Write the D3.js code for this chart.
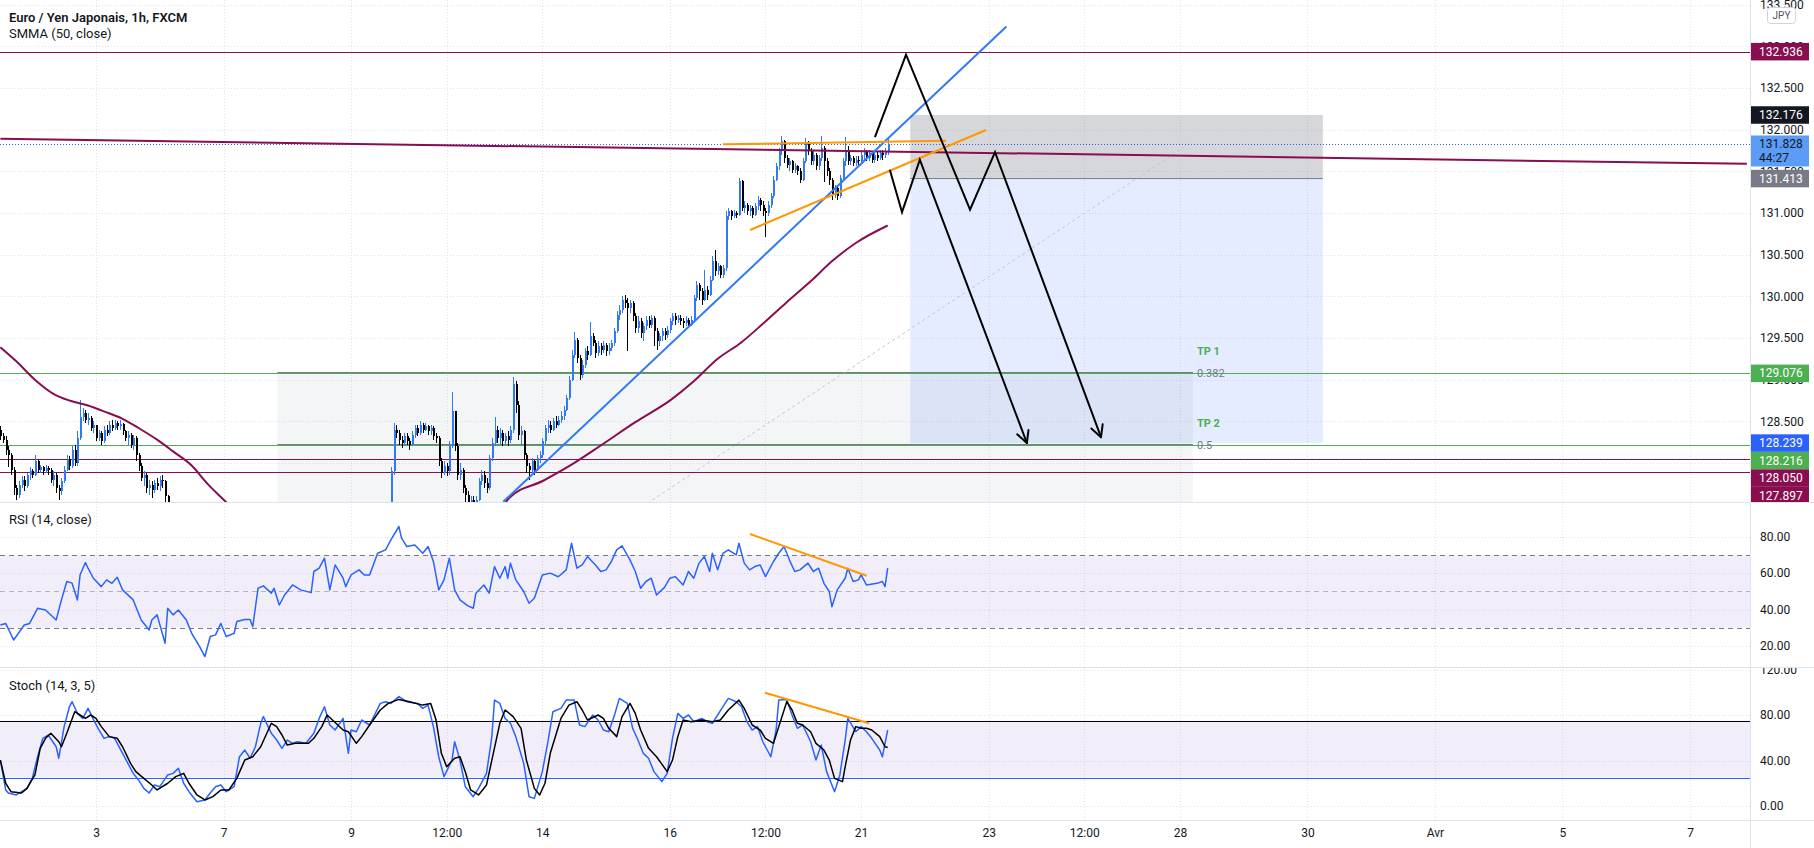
<!DOCTYPE html>
<html><head><meta charset="utf-8">
<script src="https://cdn.jsdelivr.net/npm/d3@7"></script>
<style>
html,body{margin:0;padding:0;background:#fff;overflow:hidden;}
svg{display:block;font-family:Roboto,"Noto Sans",sans-serif;}
</style></head><body>
<svg id="c" width="1814" height="848"></svg>
<script>
// ---------------- DATA ----------------
// hourly bars, index 0 = 1 Mar 12:00 ; index 36 = 3 Mar 00:00
const timeBars   = [36,84,132,168,204,252,288,324,372,408,444,492,540,588,636];
const timeLabels = ["3","7","9","12:00","14","16","12:00","21","23","12:00","28","30","Avr","5","7"];
const priceTicks = [128.0,128.5,129.0,129.5,130.0,130.5,131.0,131.5,132.0,132.5,133.0,133.5];
const rsiTicks   = [20,40,60,80];
const stochTicks = [0,40,80,120];

// candles, segment A (visible left part)
const startA = 0, openA = 128.40;
const closesA = [128.32,128.28,128.15,128.10,127.92,127.70,127.62,127.74,127.80,127.72,
127.85,127.90,127.86,128.02,127.92,127.95,127.90,127.94,127.92,127.80,
127.86,127.70,127.66,127.78,127.92,128.05,127.96,128.15,128.00,128.30,
128.55,128.60,128.52,128.54,128.42,128.45,128.30,128.36,128.26,128.40,
128.36,128.46,128.42,128.48,128.44,128.47,128.38,128.30,128.34,128.22,
128.30,128.10,127.96,127.82,127.86,127.70,127.74,127.68,127.76,127.72,
127.80,127.78,127.60,127.48,127.30];
const highsA = [128.44,128.36,128.32,128.20,128.12,127.95,127.74,127.78,127.84,127.84,
127.88,127.95,127.93,128.10,128.04,127.98,127.96,127.97,127.96,127.94,
127.90,127.88,127.74,127.82,127.96,128.10,128.08,128.20,128.22,128.38,
128.76,128.66,128.64,128.60,128.56,128.50,128.46,128.40,128.38,128.44,
128.46,128.50,128.52,128.52,128.50,128.52,128.48,128.40,128.38,128.36,
128.34,128.32,128.12,128.00,127.90,127.88,127.80,127.78,127.80,127.82,
127.84,127.86,127.80,127.62,127.50];
const lowsA = [128.28,128.24,128.10,127.95,127.85,127.62,127.56,127.58,127.70,127.66,
127.70,127.80,127.82,127.84,127.88,127.88,127.86,127.88,127.86,127.76,
127.72,127.64,127.55,127.62,127.76,127.90,127.92,127.94,127.96,127.96,
128.28,128.50,128.48,128.46,128.38,128.36,128.26,128.26,128.22,128.24,
128.32,128.34,128.38,128.40,128.40,128.40,128.34,128.26,128.22,128.18,
128.16,128.02,127.90,127.78,127.72,127.64,127.62,127.58,127.64,127.68,
127.66,127.70,127.50,127.40,127.20];

// candles, segment B (from 9 Mar to last bar)
const startB = 147, openB = 127.40;
const closesB = [127.90,128.40,128.36,128.28,128.24,128.32,128.26,128.22,128.34,128.42,
128.36,128.46,128.40,128.44,128.38,128.42,128.32,128.30,128.02,127.88,
127.96,127.90,128.20,128.62,128.20,127.86,127.92,127.70,127.62,127.52,
127.56,127.50,127.56,127.78,127.86,127.76,127.70,128.06,128.24,128.40,
128.30,128.36,128.26,128.32,128.28,128.40,128.95,128.70,128.34,128.38,
128.10,127.96,127.92,128.02,127.92,128.06,128.10,128.26,128.42,128.46,
128.40,128.50,128.46,128.52,128.56,128.64,128.78,129.00,129.30,129.48,
129.26,129.06,129.18,129.34,129.30,129.52,129.44,129.32,129.40,129.36,
129.42,129.34,129.38,129.44,129.58,129.78,129.84,129.96,129.92,129.86,
129.92,129.76,129.62,129.70,129.56,129.64,129.72,129.66,129.74,129.58,
129.46,129.52,129.58,129.54,129.60,129.70,129.76,129.72,129.74,129.70,
129.68,129.72,129.66,129.72,129.98,130.14,130.06,129.96,130.08,130.02,
130.20,130.42,130.30,130.36,130.26,130.34,130.96,131.02,130.96,131.00,
130.98,131.38,131.06,131.10,131.02,131.06,130.98,131.08,131.16,131.10,
131.02,131.00,131.10,131.20,131.40,131.56,131.74,131.86,131.66,131.58,
131.62,131.52,131.56,131.50,131.40,131.62,131.84,131.74,131.62,131.70,
131.56,131.66,131.78,131.62,131.50,131.40,131.22,131.30,131.20,131.42,
131.62,131.76,131.62,131.66,131.60,131.64,131.62,131.70,131.74,131.66,
131.72,131.64,131.70,131.66,131.72,131.70,131.74,131.828];
const highsB = [127.95,128.48,128.46,128.40,128.32,128.36,128.36,128.30,128.38,128.46,
128.46,128.50,128.48,128.48,128.46,128.46,128.44,128.36,128.32,128.06,
128.02,128.00,128.26,128.85,128.60,128.24,128.00,127.94,127.74,127.66,
127.60,127.60,127.60,127.82,127.92,127.90,127.82,128.10,128.30,128.55,
128.44,128.42,128.40,128.36,128.38,128.44,129.03,128.98,128.74,128.44,
128.40,128.12,128.00,128.06,128.04,128.10,128.14,128.30,128.46,128.52,
128.50,128.54,128.56,128.56,128.62,128.68,128.82,129.04,129.36,129.57,
129.50,129.30,129.24,129.38,129.40,129.69,129.56,129.48,129.46,129.44,
129.46,129.44,129.44,129.48,129.62,129.82,129.90,130.00,130.02,129.98,
129.96,129.94,129.80,129.76,129.74,129.68,129.76,129.76,129.78,129.76,
129.62,129.56,129.62,129.62,129.64,129.74,129.80,129.80,129.78,129.78,
129.74,129.76,129.74,129.76,130.02,130.18,130.16,130.10,130.32,130.12,
130.24,130.48,130.56,130.40,130.38,130.38,131.02,131.06,131.04,131.04,
131.02,131.42,131.40,131.14,131.12,131.10,131.08,131.12,131.20,131.18,
131.14,131.06,131.14,131.24,131.44,131.60,131.78,131.92,131.88,131.70,
131.66,131.64,131.60,131.58,131.54,131.66,131.90,131.86,131.78,131.74,
131.72,131.70,131.92,131.80,131.66,131.54,131.42,131.34,131.34,131.46,
131.66,131.91,131.80,131.70,131.68,131.68,131.68,131.74,131.78,131.76,
131.76,131.74,131.74,131.74,131.76,131.76,131.78,131.89];
const lowsB = [127.30,127.86,128.30,128.22,128.18,128.20,128.22,128.16,128.20,128.30,
128.32,128.34,128.36,128.38,128.34,128.34,128.28,128.24,127.96,127.82,
127.86,127.84,127.86,128.18,128.14,127.80,127.80,127.64,127.50,127.44,
127.46,127.44,127.46,127.54,127.74,127.70,127.64,127.68,128.02,128.20,
128.24,128.22,128.20,128.22,128.20,128.24,128.36,128.60,128.28,128.20,
128.04,127.88,127.80,127.86,127.86,127.90,128.00,128.06,128.22,128.36,
128.36,128.38,128.42,128.44,128.48,128.52,128.62,128.76,128.98,129.26,
129.20,129.00,129.02,129.14,129.24,129.28,129.40,129.26,129.28,129.30,
129.32,129.28,129.30,129.34,129.40,129.56,129.72,129.80,129.86,129.34,
129.80,129.70,129.56,129.56,129.50,129.46,129.60,129.62,129.62,129.40,
129.36,129.40,129.46,129.48,129.50,129.56,129.66,129.66,129.68,129.66,
129.62,129.64,129.62,129.64,129.70,129.94,129.96,129.90,129.94,129.96,
130.00,130.18,130.24,130.26,130.22,130.22,130.30,130.92,130.92,130.94,
130.94,130.96,131.02,131.00,130.98,130.96,130.94,130.96,131.04,131.02,
130.96,130.71,130.96,131.06,131.18,131.38,131.52,131.70,131.60,131.54,
131.50,131.48,131.48,131.46,131.36,131.38,131.60,131.70,131.58,131.58,
131.52,131.52,131.62,131.37,131.44,131.34,131.16,131.18,131.16,131.18,
131.40,131.56,131.58,131.58,131.56,131.56,131.58,131.60,131.64,131.62,
131.62,131.60,131.60,131.62,131.64,131.64,131.66,131.70];

// SMMA (50, close)
const smmaBars = [0,6,13,20,26,33,39,46,52,59,65,72,78,85,92,110,130,150,170,185,191.5,204.5,215,226,239,252.5,261,270,279,287,296,305,313,322,334];
const smmaVals = [129.39,129.22,129.00,128.83,128.75,128.69,128.62,128.53,128.42,128.28,128.14,127.97,127.75,127.53,127.30,126.90,126.70,126.70,126.90,127.25,127.58,127.79,127.98,128.21,128.49,128.76,128.98,129.25,129.45,129.67,129.93,130.18,130.42,130.64,130.85];

// RSI (14, close)
const rsiBars = [0,2,5,9,11,14,17,21,23,25,27,29,30,32,33,35,38,40,42,44,46,50,53,56,57,59,62,63,65,67,70,72,75,77,79,81,83,85,88,89,92,94,95,97,99,102,103,105,107,110,113,117,118,120,122,124,126,129,130,132,135,137,139,142,145,147,150,151,153,156,159,161,163,165,167,169,171,173,176,178,179,182,184,186,188,190,191,192,194,197,199,201,204,207,210,213,215,217,219,221,224,226,228,230,232,234,237,239,241,243,245,247,250,252,254,257,259,261,263,265,267,268,270,272,274,277,278,280,282,284,286,288,291,293,295,297,299,301,304,306,308,310,312,313,315,318,319,321,323,324,326,330,332,333,334];
const rsiVals = [31.5,32.4,23.3,31.5,32.4,40.7,39.8,34.3,45.3,55.4,54.5,45.3,59,65.8,62.7,57.2,52.6,56.3,54.4,57.7,50.8,45.3,34.3,28.8,34.3,37.1,21.5,40.7,37.1,39.8,34.3,27,19.7,14.2,25.2,26.1,32.4,25.2,27,33.4,34.6,34.6,30.6,51.7,53,49,51.7,42.5,48,53.5,50.8,49.3,60.9,62.7,68.2,50.8,64.5,57.2,52.6,59,61.8,59,59,70.9,72.8,78.3,85.6,79.2,74.6,75.5,70.9,74.6,66.4,50.8,56.3,68.2,50.8,45.3,42,40.7,49,53.5,49,63.6,57.2,63.6,57.2,65.5,56.3,49.9,43.5,46.2,59,60,58,61.8,76.4,62.7,64.5,69.1,64.5,60.9,61.8,66.4,72.8,75,67.3,60.9,51.7,55.4,57.2,48,52.2,57.2,58.1,53.5,60.9,57.2,65.5,69.1,60.9,70.9,61.8,70.9,72.8,70,76.4,65.5,61.8,63.6,64.5,58.1,66.4,70.9,74.6,67.3,60.9,61.8,65.5,60.9,62.7,54.4,49.9,41.6,50.8,57.2,62.7,55.4,56.3,59,53.5,54.4,55.4,52.6,62.7];

// Stoch (14, 3, 5)  %K and %D
const kBars = [0,2,3,6,10,12,14,16,18,21,22,24,26,27,29,31,33,35,37,39,41,43,45,48,50,52,54,56,58,60,63,65,67,69,71,74,77,79,81,83,85,88,90,92,94,96,98,99,102,104,106,108,110,112,115,118,120,122,124,126,129,131,132,134,136,139,143,145,147,150,153,157,159,161,163,165,167,170,171,173,175,178,180,183,185,186,188,190,192,194,197,199,201,204,206,208,211,213,216,218,220,223,225,227,229,231,233,236,238,240,242,244,246,249,251,253,255,257,259,261,264,266,268,270,272,274,277,279,281,283,285,287,290,292,293,296,298,300,302,305,307,309,311,314,316,318,319,322,324,326,328,331,332,334];
const kVals = [40.4,14.1,11.4,9.7,15.5,24.3,43.3,59.5,62.4,52.1,42,69.8,87.3,91.7,81.4,77,85.8,76.2,67.4,59.5,61,59.5,50.7,37.5,28.7,22.9,15.5,11.4,18.5,17,27.3,28.7,33.1,20,12.6,3.8,5.3,11.4,17,18.5,12.6,17,43.3,49.2,42,52.1,72.7,78.6,63.9,58,50.7,58,55.1,56.5,55.1,63.9,77,87.3,71.2,66.8,77,46.3,66.8,65.3,75.6,71.2,90.2,91.7,90.2,96.1,91.7,90.2,85.8,88.7,69.8,43.3,25.8,40.4,56.5,40.4,17,8.2,15.5,28.7,61,93.1,90.2,77,72.7,61,37.5,8.2,6.7,30.2,55.1,82.9,85.8,93.1,93.1,71.2,69.8,80,75.6,66.8,65.3,78.6,94.6,90.2,68.3,58,46.3,42,30.2,21.4,28.7,59.5,81.4,77,80,74.1,77,74.1,72.7,80,87.3,94.6,91.7,87.3,74.1,66.8,69.8,56.5,43.3,66.8,93.1,93.7,80,68.3,71.2,56.5,40.4,53.6,30.2,12.6,27.3,58,77,65.3,69.8,65.3,59.5,49.2,43.3,66.8];
const dBars = [0,2,4,8,10,13,15,17,19,22,23,25,28,30,32,34,36,38,41,44,46,49,51,54,57,59,63,66,69,71,74,77,80,83,86,89,92,95,98,102,104,106,108,111,116,118,121,123,125,129,131,134,136,139,143,146,150,154,159,162,164,166,168,171,173,175,177,180,183,185,188,190,193,196,198,201,203,205,207,211,214,217,219,221,225,227,229,232,234,237,239,241,244,247,251,253,255,257,260,264,268,271,274,278,280,283,286,288,291,293,296,298,300,302,305,307,310,312,314,317,318,320,322,324,326,328,331,333,334];
const dVals = [40.4,20,12.6,11.4,15.5,27.3,50.7,59.5,63.9,56.5,52.1,63.9,82.9,80,77,80,77,69.8,61,59.5,52.1,37.5,30.2,24.3,18.5,14.1,20,25.8,28.7,20,9.7,5.3,8.2,14.1,14.1,24.3,40.4,43.3,52.1,72.7,69.8,62.4,53.6,55.1,55.1,59.5,69.8,80,75.6,66.8,65.3,55.1,61,71.2,84.4,90.2,93.7,91.7,88.7,90.2,75.6,46.3,34.6,42,43.3,30.2,14.1,9.7,18.5,40.4,72.7,84.4,78.6,68.3,40.4,15.5,9.7,20,46.3,77,88.7,91.7,84.4,75.6,80,77,68.3,61,78.6,90.2,81.4,66.8,50.7,43.3,30.2,40.4,61,75.6,74.1,75.6,74.1,75.6,84.4,93.1,85.8,71.2,66.8,59.5,55.1,69.8,91.7,84.4,72.7,71.2,65.3,55.1,49.2,40.4,24.3,21.4,34.6,58,69.8,68.3,68.3,66.8,61,52.1,51.4];

// horizontal levels
const purpleLevels = [132.936,128.050,127.897];
const greenLevels  = [129.076,128.216];
const lastPrice = 131.828;
const countdown = "44:27";

// drawings (bar index, price)
const blueTrend   = [[189.3,127.535],[378.7,133.237]];
const orangeTop   = [[272,131.824],[356,131.867]];
const orangeRise  = [[282.2,130.796],[371,131.996]];
const purpleRay   = [[0,131.89],[657.4,131.59]];
const zigzagA     = [[329.2,131.91],[340.9,132.90],[365,131.04],[374.4,131.73],[414.3,128.31]];
const zigzagB     = [[334.8,131.52],[339.4,131.01],[346.1,131.64],[386.4,128.24]];
const posBars     = [342.5,497.8];
const stopPrice = 132.176, entryPrice = 131.413, targetPrice = 128.239;
const fibFrom = [104.3,124.57], fibTo = [448.9,131.86];
const fibLevels = [0.382,0.5];
const fibNames  = ["0.382","0.5"];
const tpNames   = ["TP 1","TP 2"];
const rsiTrend   = [[282.2,81.5],[326.1,58.6]];
const stochTrend = [[287.8,99.6],[327,72.7]];

// price tags on the axis
const tagPrices = [132.936,132.176,131.828,131.413,129.076,128.239,128.216,128.050,127.897];

// ---------------- DRAW ----------------
const AX = 1750, MAIN=[0,502], RSIP=[502,667], STP=[667,820];
const svg = d3.select('#c');
const x  = d3.scaleLinear().domain([36,636]).range([96,1690]);
const y  = d3.scaleLinear().domain([128.5,132.5]).range([421.33,88]);
const yR = d3.scaleLinear().domain([20,80]).range([646,536.7]);
const yS = d3.scaleLinear().domain([0,80]).range([806,715]);

const defs = svg.append('defs');
function clip(id,y0,y1,x1){ defs.append('clipPath').attr('id',id).append('rect').attr('x',0).attr('y',y0).attr('width',x1||AX).attr('height',y1-y0); }
clip('cm',MAIN[0],MAIN[1]); clip('cr',RSIP[0]+1,RSIP[1]); clip('cs',STP[0]+1,STP[1]);
defs.append('clipPath').attr('id','cax').append('rect').attr('x',AX).attr('y',0).attr('width',64).attr('height',MAIN[1]);
defs.append('clipPath').attr('id','cas').append('rect').attr('x',AX).attr('y',STP[0]+1).attr('width',64).attr('height',STP[1]-STP[0]-1);

svg.append('rect').attr('width',1814).attr('height',848).attr('fill','#fff');

// grid
const grid = svg.append('g').attr('stroke','#e0e3eb').attr('stroke-dasharray','1,2').attr('stroke-width',1);
timeBars.forEach(b=>grid.append('line').attr('x1',Math.round(x(b))+0.5).attr('x2',Math.round(x(b))+0.5).attr('y1',0).attr('y2',STP[1]));
priceTicks.forEach(p=>grid.append('line').attr('x1',0).attr('x2',AX).attr('y1',Math.round(y(p))+0.5).attr('y2',Math.round(y(p))+0.5).attr('clip-path','url(#cm)'));
rsiTicks.forEach(p=>grid.append('line').attr('x1',0).attr('x2',AX).attr('y1',Math.round(yR(p))+0.5).attr('y2',Math.round(yR(p))+0.5));
stochTicks.forEach(p=>grid.append('line').attr('x1',0).attr('x2',AX).attr('y1',Math.round(yS(p))+0.5).attr('y2',Math.round(yS(p))+0.5).attr('clip-path','url(#cs)'));

// ---------- main pane ----------
const main = svg.append('g').attr('clip-path','url(#cm)');
const line = d3.line().x(d=>x(d[0])).y(d=>y(d[1]));

// fib area
const fibRange = fibTo[1]-fibFrom[1];
const fibPrice = l => fibTo[1] - l*fibRange;
main.append('rect').attr('x',x(fibFrom[0])).attr('width',x(fibTo[0])-x(fibFrom[0]))
  .attr('y',y(fibPrice(fibLevels[0]))).attr('height',MAIN[1]-y(fibPrice(fibLevels[0])))
  .attr('fill','rgba(120,123,134,0.08)');
// position boxes
main.append('rect').attr('x',x(posBars[0])).attr('width',x(posBars[1])-x(posBars[0]))
  .attr('y',y(stopPrice)).attr('height',y(entryPrice)-y(stopPrice)).attr('fill','rgba(120,123,134,0.30)');
main.append('rect').attr('x',x(posBars[0])).attr('width',x(posBars[1])-x(posBars[0]))
  .attr('y',y(entryPrice)).attr('height',y(targetPrice)-y(entryPrice)).attr('fill','rgba(41,98,255,0.12)');
main.append('line').attr('x1',x(posBars[0])).attr('x2',x(posBars[1])).attr('y1',y(entryPrice)).attr('y2',y(entryPrice))
  .attr('stroke','#787b86').attr('stroke-width',1);
// fib level lines
fibLevels.forEach(l=>main.append('line').attr('x1',x(fibFrom[0])).attr('x2',x(fibTo[0]))
  .attr('y1',Math.round(y(fibPrice(l)))-0.5).attr('y2',Math.round(y(fibPrice(l)))-0.5).attr('stroke','#787b86').attr('stroke-width',1));
// fib trend dashed
main.append('path').attr('d',line([fibFrom,fibTo])).attr('fill','none').attr('stroke','#c3c6ce').attr('stroke-width',1).attr('stroke-dasharray','3,3');

// horizontal levels
purpleLevels.forEach(p=>main.append('line').attr('x1',0).attr('x2',AX).attr('y1',Math.round(y(p))+0.5).attr('y2',Math.round(y(p))+0.5).attr('stroke','#880e4f').attr('stroke-width',1));
greenLevels.forEach(p=>main.append('line').attr('x1',0).attr('x2',AX).attr('y1',Math.round(y(p))+0.5).attr('y2',Math.round(y(p))+0.5).attr('stroke','#4caf50').attr('stroke-width',1));
main.append('line').attr('x1',0).attr('x2',AX).attr('y1',Math.round(y(lastPrice))+0.5).attr('y2',Math.round(y(lastPrice))+0.5)
  .attr('stroke','#2962ff').attr('stroke-width',1).attr('stroke-dasharray','1,2');

// candles
const candles = [];
function addSeg(start,open0,cl,hi,lo){ cl.forEach((c,k)=>{ const o = k?cl[k-1]:open0; candles.push({i:start+k,o,c,h:Math.max(hi[k],o,c),l:Math.min(lo[k],o,c)}); }); }
addSeg(startA,openA,closesA,highsA,lowsA);
addSeg(startB,openB,closesB,highsB,lowsB);
const gC = main.append('g').attr('shape-rendering','crispEdges');
gC.selectAll('rect.w').data(candles).join('rect').attr('class','w')
  .attr('x',d=>Math.round(x(d.i))).attr('width',1)
  .attr('y',d=>y(d.h)).attr('height',d=>Math.max(1,y(d.l)-y(d.h)))
  .attr('fill',d=>d.c>=d.o?'#3179f5':'#000');
gC.selectAll('rect.b').data(candles).join('rect').attr('class','b')
  .attr('x',d=>Math.round(x(d.i))-0.5).attr('width',2)
  .attr('y',d=>y(Math.max(d.o,d.c))).attr('height',d=>Math.max(1,Math.abs(y(d.o)-y(d.c))))
  .attr('fill',d=>d.c>=d.o?'#3179f5':'#000');

// SMMA
main.append('path').datum(smmaBars.map((b,k)=>[b,smmaVals[k]]))
  .attr('d',d3.line().x(d=>x(d[0])).y(d=>y(d[1])).curve(d3.curveMonotoneX))
  .attr('fill','none').attr('stroke','#880e4f').attr('stroke-width',2);

// trend drawings
main.append('path').attr('d',line(purpleRay)).attr('stroke','#880e4f').attr('stroke-width',2).attr('fill','none');
main.append('path').attr('d',line(blueTrend)).attr('stroke','#3179f5').attr('stroke-width',2).attr('fill','none');
main.append('path').attr('d',line(orangeTop)).attr('stroke','#ff9800').attr('stroke-width',2).attr('fill','none');
main.append('path').attr('d',line(orangeRise)).attr('stroke','#ff9800').attr('stroke-width',2).attr('fill','none');
function zig(pts){
  main.append('path').attr('d',line(pts)).attr('stroke','#000').attr('stroke-width',2).attr('fill','none').attr('stroke-linejoin','miter');
  const a=pts[pts.length-2], b=pts[pts.length-1];
  const x1=x(a[0]),y1=y(a[1]),x2=x(b[0]),y2=y(b[1]);
  const ang=Math.atan2(y2-y1,x2-x1), L=13, sp=Math.PI/6.5;
  [ang+Math.PI-sp, ang+Math.PI+sp].forEach(t=>main.append('line').attr('x1',x2).attr('y1',y2)
    .attr('x2',x2+L*Math.cos(t)).attr('y2',y2+L*Math.sin(t)).attr('stroke','#000').attr('stroke-width',2).attr('stroke-linecap','round'));
}
zig(zigzagA); zig(zigzagB);

// fib labels
fibLevels.forEach((l,k)=>{
  const yy = y(fibPrice(l)), xx = x(fibTo[0])+4;
  main.append('text').attr('x',xx).attr('y',yy).attr('dominant-baseline','central').attr('fill','#787b86').style('font-size','11px').text(fibNames[k]);
  main.append('text').attr('x',xx).attr('y',yy-22).attr('dominant-baseline','central').attr('fill','#4caf50').style('font-size','11px').style('font-weight','bold').text(tpNames[k]);
});

// legends
svg.append('text').attr('x',9).attr('y',17).attr('dominant-baseline','central').attr('fill','#131722').style('font-size','13px').style('font-weight','600').text('Euro / Yen Japonais, 1h, FXCM');
svg.append('text').attr('x',9).attr('y',33).attr('dominant-baseline','central').attr('fill','#131722').style('font-size','13px').text('SMMA (50, close)');

// ---------- RSI pane ----------
const rsiG = svg.append('g').attr('clip-path','url(#cr)');
rsiG.append('rect').attr('x',0).attr('width',AX).attr('y',yR(70)).attr('height',yR(30)-yR(70)).attr('fill','rgba(126,87,194,0.1)');
[[70,'#787b86'],[50,'#b2b5be'],[30,'#787b86']].forEach(([v,c])=>rsiG.append('line').attr('x1',0).attr('x2',AX)
  .attr('y1',Math.round(yR(v))+0.5).attr('y2',Math.round(yR(v))+0.5).attr('stroke',c).attr('stroke-dasharray','5,4').attr('stroke-width',1));
rsiG.append('path').attr('d',d3.line().x(d=>x(d[0])).y(d=>yR(d[1]))(rsiBars.map((b,k)=>[b,rsiVals[k]])))
  .attr('fill','none').attr('stroke','#2962ff').attr('stroke-width',1.5).attr('stroke-linejoin','round');
rsiG.append('path').attr('d',d3.line().x(d=>x(d[0])).y(d=>yR(d[1]))(rsiTrend)).attr('stroke','#ff9800').attr('stroke-width',2).attr('fill','none');
svg.append('text').attr('x',9).attr('y',519).attr('dominant-baseline','central').attr('fill','#131722').style('font-size','13px').text('RSI (14, close)');

// ---------- Stoch pane ----------
const stG = svg.append('g').attr('clip-path','url(#cs)');
stG.append('rect').attr('x',0).attr('width',AX).attr('y',yS(75)).attr('height',yS(25)-yS(75)).attr('fill','rgba(126,87,194,0.1)');
stG.append('line').attr('x1',0).attr('x2',AX).attr('y1',Math.round(yS(75))+0.5).attr('y2',Math.round(yS(75))+0.5).attr('stroke','#000').attr('stroke-width',1);
stG.append('line').attr('x1',0).attr('x2',AX).attr('y1',Math.round(yS(25))+0.5).attr('y2',Math.round(yS(25))+0.5).attr('stroke','#2962ff').attr('stroke-width',1);
const sl = d3.line().x(d=>x(d[0])).y(d=>yS(d[1]));
stG.append('path').attr('d',sl(kBars.map((b,k)=>[b,kVals[k]]))).attr('fill','none').attr('stroke','#2962ff').attr('stroke-width',1.5).attr('stroke-linejoin','round');
stG.append('path').attr('d',sl(dBars.map((b,k)=>[b,dVals[k]]))).attr('fill','none').attr('stroke','#000').attr('stroke-width',1.5).attr('stroke-linejoin','round');
stG.append('path').attr('d',sl(stochTrend)).attr('stroke','#ff9800').attr('stroke-width',2).attr('fill','none');
svg.append('text').attr('x',9).attr('y',685).attr('dominant-baseline','central').attr('fill','#131722').style('font-size','13px').text('Stoch (14, 3, 5)');

// ---------- axes ----------
svg.append('rect').attr('x',AX).attr('y',0).attr('width',1814-AX).attr('height',848).attr('fill','#fff');
function styleAxis(g){ g.select('.domain').remove(); g.attr('font-family',null).attr('font-size',null);
  g.selectAll('text').attr('fill','#131722').style('font-size','12px'); }
const pa = svg.append('g').attr('clip-path','url(#cax)').append('g').attr('transform',`translate(${AX},0)`)
  .call(d3.axisRight(y).tickValues(priceTicks).tickFormat(d3.format('.3f')).tickSize(0).tickPadding(10));
styleAxis(pa);
const ra = svg.append('g').attr('transform',`translate(${AX},0)`)
  .call(d3.axisRight(yR).tickValues(rsiTicks).tickFormat(d3.format('.2f')).tickSize(0).tickPadding(10));
styleAxis(ra);
const sa = svg.append('g').attr('clip-path','url(#cas)').append('g').attr('transform',`translate(${AX},0)`)
  .call(d3.axisRight(yS).tickValues(stochTicks).tickFormat(d3.format('.2f')).tickSize(0).tickPadding(10));
styleAxis(sa);
const xa = svg.append('g').attr('transform',`translate(0,${STP[1]})`)
  .call(d3.axisBottom(x).tickValues(timeBars).tickFormat((d,i)=>timeLabels[i]).tickSize(0).tickPadding(8));
styleAxis(xa);

// separators
const sep = svg.append('g').attr('stroke','#e0e3eb').attr('stroke-width',1);
[MAIN[1],RSIP[1],STP[1]].forEach(v=>sep.append('line').attr('x1',0).attr('x2',1814).attr('y1',v+0.5).attr('y2',v+0.5));
sep.append('line').attr('x1',AX+0.5).attr('x2',AX+0.5).attr('y1',0).attr('y2',848);

// JPY badge
svg.append('rect').attr('x',1767.5).attr('y',7.5).attr('width',28).attr('height',16).attr('rx',3).attr('fill','#fff').attr('stroke','#d1d4dc');
svg.append('text').attr('x',1781.5).attr('y',15.5).attr('text-anchor','middle').attr('dominant-baseline','central').attr('fill','#50535e').style('font-size','10px').text('JPY');

// price tags
const tagFill = ['#880e4f','#131722','#5b9cf6','#787b86','#4caf50','#2962ff','#4caf50','#880e4f','#880e4f'];
const tagInk  = ['#fff','#fff','#131722','#fff','#fff','#fff','#fff','#fff','#fff'];
const tg = svg.append('g').attr('clip-path','url(#cax)');
let prevBottom = -1e9;
tagPrices.forEach((p,k)=>{
  const isLast = p===lastPrice, h = isLast?31:17.5;
  let top = isLast ? y(p)-8.5 : y(p)-h/2;
  if (top < prevBottom) top = prevBottom;
  prevBottom = top+h;
  tg.append('rect').attr('x',AX+1).attr('y',top).attr('width',58).attr('height',h).attr('fill',tagFill[k]);
  tg.append('text').attr('x',AX+9).attr('y',isLast?top+8.5:top+h/2).attr('dominant-baseline','central')
    .attr('fill',tagInk[k]).style('font-size','12px').text(d3.format('.3f')(p));
  if (isLast) tg.append('text').attr('x',AX+9).attr('y',top+23).attr('dominant-baseline','central')
    .attr('fill',tagInk[k]).style('font-size','12px').text(countdown);
});
</script>
</body></html>
